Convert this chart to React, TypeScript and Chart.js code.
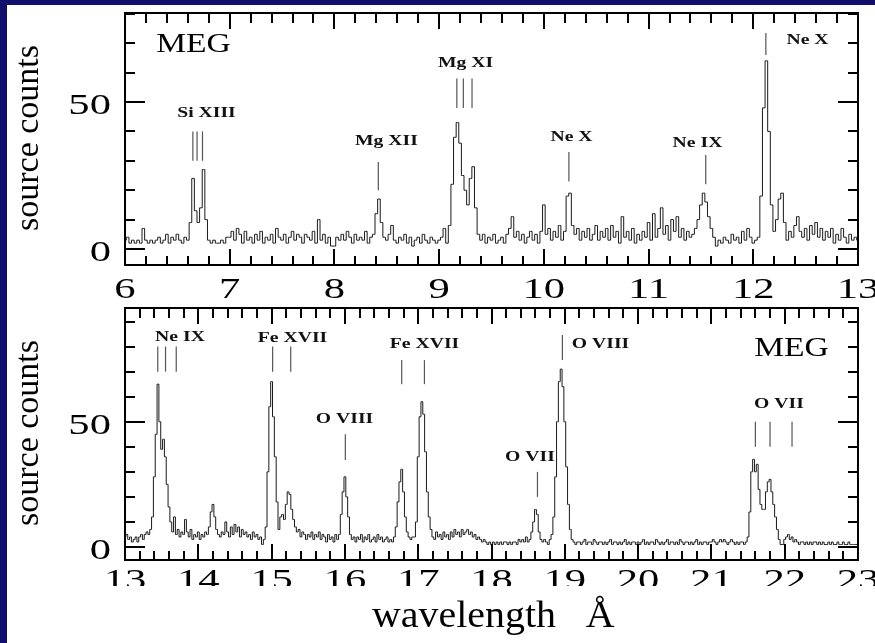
import React, { useEffect, useRef } from 'react';
import { Chart, registerables } from 'chart.js';

Chart.register(...registerables);

// ---------- data ----------
const TOP_START = 6.0;
const TOP_STEP = 0.025;
const TOP_COUNTS = [
  3, 4, 2, 3, 2, 3, 2, 7, 3, 2, 3, 2, 3, 4, 2, 3, 5, 2, 4, 3, 5, 3, 2, 4, 3, 9, 24, 13, 9, 14, 27, 10, 3, 2, 3, 2, 2, 3, 2, 4,
  4, 6, 3, 7, 5, 2, 6, 3, 4, 2, 5, 3, 6, 2, 4, 3, 5, 2, 7, 4, 3, 5, 2, 4, 6, 3, 5, 4, 2, 5, 4, 3, 6, 2, 10, 3, 5, 2, 4, 1,
  1, 4, 3, 5, 3, 6, 4, 2, 5, 3, 4, 3, 6, 2, 4, 5, 12, 17, 9, 4, 3, 5, 8, 3, 2, 4, 3, 5, 2, 4, 1, 3, 4, 2, 5, 3, 2, 4, 3, 2,
  3, 4, 7, 2, 8, 22, 38, 43, 36, 25, 20, 15, 24, 28, 14, 5, 3, 5, 2, 4, 3, 5, 2, 3, 4, 2, 5, 7, 11, 4, 6, 3, 5, 2, 4, 6, 3, 5, 2, 6,
  15, 5, 7, 3, 6, 4, 8, 3, 6, 18, 19, 8, 5, 7, 3, 6, 4, 7, 3, 5, 8, 3, 6, 4, 7, 3, 8, 4, 6, 2, 11, 4, 6, 3, 7, 2, 5, 3, 6, 4,
  9, 3, 12, 4, 7, 14, 5, 8, 3, 10, 6, 11, 4, 7, 3, 6, 4, 5, 7, 10, 15, 19, 16, 11, 7, 4, 1, 3, 2, 4, 3, 2, 5, 3, 4, 2, 6, 3, 7, 4,
  2, 3, 4, 18, 48, 64, 40, 15, 6, 10, 17, 19, 9, 3, 6, 4, 8, 11, 6, 4, 7, 3, 8, 5, 9, 4, 7, 3, 6, 4, 7, 2, 5, 3, 7, 4, 2, 5, 3, 4,
  3,
];

const BOTTOM_START = 13.0;
const BOTTOM_STEP = 0.025;
const BOTTOM_COUNTS = [
  4, 5, 3, 4, 2, 3, 4, 2, 4, 5, 3, 5, 6, 5, 7, 12, 28, 45, 65, 50, 39, 43, 36, 25, 16, 10, 6, 12, 5, 7, 4, 6, 5, 11, 6, 4, 7, 3, 5, 4,
  6, 3, 5, 4, 6, 5, 8, 14, 17, 12, 7, 5, 4, 6, 5, 10, 6, 4, 8, 5, 9, 6, 8, 4, 7, 5, 6, 4, 5, 3, 6, 4, 5, 3, 4, 1, 3, 8, 30, 56,
  66, 52, 36, 18, 7, 12, 13, 11, 17, 22, 21, 15, 11, 8, 6, 7, 4, 6, 5, 3, 5, 4, 6, 3, 5, 4, 6, 3, 5, 4, 2, 5, 3, 4, 2, 5, 3, 5, 13, 22,
  28, 20, 12, 5, 3, 4, 2, 4, 3, 5, 2, 4, 3, 5, 2, 3, 4, 2, 5, 3, 4, 2, 3, 4, 2, 3, 2, 4, 8, 18, 26, 31, 22, 12, 6, 4, 3, 4, 4, 10,
  36, 52, 58, 53, 38, 22, 12, 7, 4, 3, 6, 4, 5, 3, 6, 4, 5, 3, 6, 4, 7, 5, 6, 4, 7, 5, 6, 7, 5, 6, 4, 5, 3, 4, 3, 2, 3, 2, 1, 2,
  1, 2, 1, 2, 1, 2, 1, 2, 2, 1, 2, 1, 2, 2, 1, 3, 2, 3, 2, 4, 2, 3, 6, 10, 15, 13, 6, 3, 2, 3, 2, 1, 3, 5, 12, 28, 50, 66, 71, 64,
  50, 32, 17, 7, 3, 2, 1, 2, 2, 1, 2, 3, 1, 2, 2, 1, 3, 2, 1, 2, 2, 1, 2, 1, 2, 3, 1, 2, 2, 1, 2, 1, 2, 3, 1, 2, 1, 2, 2, 1,
  2, 1, 2, 3, 1, 2, 1, 2, 2, 1, 3, 2, 1, 2, 1, 2, 3, 1, 2, 2, 1, 2, 1, 3, 2, 1, 2, 2, 1, 2, 1, 2, 3, 1, 2, 1, 2, 2, 1, 2,
  2, 3, 2, 1, 2, 3, 2, 3, 2, 1, 2, 3, 2, 1, 2, 1, 2, 2, 1, 2, 4, 14, 30, 35, 30, 33, 23, 17, 15, 15, 22, 26, 27, 22, 17, 12, 7, 3, 1, 1,
  3, 4, 5, 3, 4, 2, 3, 2, 1, 2, 2, 1, 2, 1, 2, 1, 2, 2, 1, 2, 1, 2, 1, 1, 2, 1, 2, 1, 1, 2, 1, 1, 2, 1, 1, 2, 1, 1, 1, 1,
  1,
];

const TOP_X_TICK_LABELS = ['6', '7', '8', '9', '10', '11', '12', '13'];
const BOTTOM_X_TICK_LABELS = ['13', '14', '15', '16', '17', '18', '19', '20', '21', '22', '23'];
const Y_TICK_LABELS = ['0', '50'];
const TOP_Y_RANGE = [-5.44, 80.27];
const BOTTOM_Y_RANGE = [-5.19, 95.4];

const TOP_IONS = [
  { name: 'Si XIII', waves: [6.648, 6.688, 6.74], from: 30, to: 40, lx: 6.778, ly: 44.9 },
  { name: 'Mg XII', waves: [8.419], from: 20, to: 29.6, lx: 8.497, ly: 35.4 },
  { name: 'Mg XI', waves: [9.169, 9.231, 9.314], from: 48, to: 58, lx: 9.252, ly: 61.9 },
  { name: 'Ne X', waves: [10.239], from: 23, to: 33, lx: 10.264, ly: 36.7 },
  { name: 'Ne IX', waves: [11.546], from: 22, to: 32, lx: 11.467, ly: 34.7 },
  { name: 'Ne X', waves: [12.12], from: 66, to: 73.5, lx: 12.518, ly: 69.7 },
];
const BOTTOM_IONS = [
  { name: 'Ne IX', waves: [13.447, 13.553, 13.699], from: 70, to: 80, lx: 13.75, ly: 82.2 },
  { name: 'Fe XVII', waves: [15.014, 15.261], from: 70, to: 80, lx: 15.285, ly: 81.8 },
  { name: 'O VIII', waves: [16.006], from: 34.7, to: 45, lx: 15.995, ly: 49.5 },
  { name: 'Fe XVII', waves: [16.775, 17.085], from: 65, to: 74.6, lx: 17.086, ly: 79.4 },
  { name: 'O VII', waves: [18.627], from: 20, to: 30, lx: 18.525, ly: 34.3 },
  { name: 'O VIII', waves: [18.967], from: 74.6, to: 84.6, lx: 19.487, ly: 79.4 },
  { name: 'O VII', waves: [21.6, 21.8, 22.1], from: 40, to: 50, lx: 21.922, ly: 55.5 },
];
const TOP_INSTRUMENT = { name: 'MEG', x: 6.654, y: 67.0 };
const BOTTOM_INSTRUMENT = { name: 'MEG', x: 22.093, y: 76.2 };

const Y_TITLE = 'source counts';
const X_TITLE = 'wavelength   Å';

// ---------- drawing helpers ----------
function drawText(ctx: CanvasRenderingContext2D, text: string, x: number, y: number, font: string, sx: number, align: CanvasTextAlign, color = '#000') {
  ctx.save();
  ctx.translate(x, y);
  ctx.scale(sx, 1);
  ctx.font = font;
  ctx.textAlign = align;
  ctx.textBaseline = 'alphabetic';
  ctx.fillStyle = color;
  ctx.fillText(text, 0, 0);
  ctx.restore();
}

type PanelCfg = {
  id: string;
  start: number;
  step: number;
  counts: number[];
  xMin: number;
  xMax: number;
  yRange: number[];
  xLabels: string[];
  ions: typeof TOP_IONS;
  instrument: { name: string; x: number; y: number };
  height: number;
  padBottom: number;
  xLabelOffset: number;
  xLabelClip: number | null;
  drawXTitle: boolean;
};

function makePlugin(cfg: PanelCfg) {
  return {
    id: 'panel_' + cfg.id,
    afterDraw(chart: any) {
      const ctx: CanvasRenderingContext2D = chart.ctx;
      const xs = chart.scales.x;
      const ys = chart.scales.y;
      const { left, right, top, bottom } = chart.chartArea;
      ctx.save();

      // ion marker lines
      ctx.strokeStyle = '#555';
      ctx.lineWidth = 1.2;
      for (const ion of cfg.ions) {
        for (const w of ion.waves) {
          const px = xs.getPixelForValue(w);
          ctx.beginPath();
          ctx.moveTo(px, ys.getPixelForValue(ion.from));
          ctx.lineTo(px, ys.getPixelForValue(ion.to));
          ctx.stroke();
        }
        drawText(ctx, ion.name, xs.getPixelForValue(ion.lx), ys.getPixelForValue(ion.ly), 'bold 15.5px "Liberation Serif"', 1.27, 'center', '#111');
      }
      drawText(ctx, cfg.instrument.name, xs.getPixelForValue(cfg.instrument.x), ys.getPixelForValue(cfg.instrument.y), '28px "Liberation Serif"', 1.2, 'center', '#000');

      // frame
      ctx.strokeStyle = '#000';
      ctx.lineWidth = 2;
      ctx.strokeRect(left, top, right - left, bottom - top);

      // x ticks
      ctx.beginPath();
      for (let k = Math.round(cfg.xMin * 5); k <= Math.round(cfg.xMax * 5); k++) {
        const v = k / 5;
        const major = k % 5 === 0;
        const px = Math.round(xs.getPixelForValue(v));
        const lb = major ? 16 : 9;
        const lt = major ? 16 : 10;
        ctx.moveTo(px, bottom);
        ctx.lineTo(px, bottom - lb);
        ctx.moveTo(px, top);
        ctx.lineTo(px, top + lt);
      }
      // y ticks
      for (let v = 0; v <= cfg.yRange[1]; v += 10) {
        const major = v % 50 === 0;
        const py = Math.round(ys.getPixelForValue(v));
        const len = major ? 20 : 10;
        ctx.moveTo(left, py);
        ctx.lineTo(left + len, py);
        ctx.moveTo(right, py);
        ctx.lineTo(right - len, py);
      }
      ctx.stroke();

      // y tick labels
      for (const lab of Y_TICK_LABELS) {
        const py = ys.getPixelForValue(Number(lab));
        drawText(ctx, lab, left - 14, py + 12, '29px "Liberation Serif"', 1.47, 'right');
      }
      // y title
      const cy = (top + bottom) / 2 - 1;
      ctx.save();
      ctx.translate(38, cy);
      ctx.rotate(-Math.PI / 2);
      ctx.font = '34px "Liberation Serif"';
      ctx.textAlign = 'center';
      ctx.textBaseline = 'alphabetic';
      ctx.fillStyle = '#000';
      ctx.fillText(Y_TITLE, 0, 0);
      ctx.restore();

      // x title
      if (cfg.drawXTitle) {
        drawText(ctx, X_TITLE, 372, bottom + 67, '38px "Liberation Serif"', 1.05, 'left');
      }

      // x tick labels (optionally clipped)
      ctx.save();
      if (cfg.xLabelClip !== null) {
        ctx.beginPath();
        ctx.rect(0, 0, chart.width, bottom + cfg.xLabelClip);
        ctx.clip();
      }
      for (const lab of cfg.xLabels) {
        const px = xs.getPixelForValue(Number(lab));
        drawText(ctx, lab, px, bottom + cfg.xLabelOffset, '29px "Liberation Serif"', 1.47, 'center');
      }
      ctx.restore();

      ctx.restore();
    },
  };
}

function buildChart(canvas: HTMLCanvasElement, cfg: PanelCfg) {
  const points = cfg.counts.map((c, i) => ({ x: cfg.start + i * cfg.step, y: c }));
  return new Chart(canvas, {
    type: 'line',
    data: {
      datasets: [
        {
          data: points,
          borderColor: '#1a1a1a',
          borderWidth: 1,
          pointRadius: 0,
          stepped: 'middle',
          fill: false,
        },
      ],
    },
    options: {
      animation: false,
      responsive: false,
      devicePixelRatio: 1,
      events: [],
      layout: { padding: { left: 125, right: 17, top: 13, bottom: cfg.padBottom } },
      plugins: { legend: { display: false }, tooltip: { enabled: false } },
      scales: {
        x: { type: 'linear', display: false, min: cfg.xMin, max: cfg.xMax },
        y: { type: 'linear', display: false, min: cfg.yRange[0], max: cfg.yRange[1] },
      },
    },
    plugins: [makePlugin(cfg)],
  } as any);
}

const TOP_CFG: PanelCfg = {
  id: 'top',
  start: TOP_START,
  step: TOP_STEP,
  counts: TOP_COUNTS,
  xMin: 6,
  xMax: 13,
  yRange: TOP_Y_RANGE,
  xLabels: TOP_X_TICK_LABELS,
  ions: TOP_IONS,
  instrument: TOP_INSTRUMENT,
  height: 310,
  padBottom: 45,
  xLabelOffset: 33,
  xLabelClip: null,
  drawXTitle: false,
};

const BOTTOM_CFG: PanelCfg = {
  id: 'bottom',
  start: BOTTOM_START,
  step: BOTTOM_STEP,
  counts: BOTTOM_COUNTS,
  xMin: 13,
  xMax: 23,
  yRange: BOTTOM_Y_RANGE,
  xLabels: BOTTOM_X_TICK_LABELS,
  ions: BOTTOM_IONS,
  instrument: BOTTOM_INSTRUMENT,
  height: 348,
  padBottom: 83,
  xLabelOffset: 29,
  xLabelClip: 26,
  drawXTitle: true,
};

export default function App() {
  const topRef = useRef<HTMLCanvasElement>(null);
  const botRef = useRef<HTMLCanvasElement>(null);

  useEffect(() => {
    const c1 = buildChart(topRef.current as HTMLCanvasElement, TOP_CFG);
    const c2 = buildChart(botRef.current as HTMLCanvasElement, BOTTOM_CFG);
    return () => {
      c1.destroy();
      c2.destroy();
    };
  }, []);

  return (
    <div style={{ position: 'fixed', left: 0, top: 0, width: 875, height: 643, background: '#10106c', overflow: 'hidden' }}>
      <div style={{ position: 'absolute', left: 7, top: 5, width: 868, height: 638, background: '#ffffff' }} />
      <canvas ref={topRef} width={875} height={310} style={{ position: 'absolute', left: 0, top: 0, width: 875, height: 310 }} />
      <canvas ref={botRef} width={875} height={348} style={{ position: 'absolute', left: 0, top: 295, width: 875, height: 348 }} />
    </div>
  );
}
